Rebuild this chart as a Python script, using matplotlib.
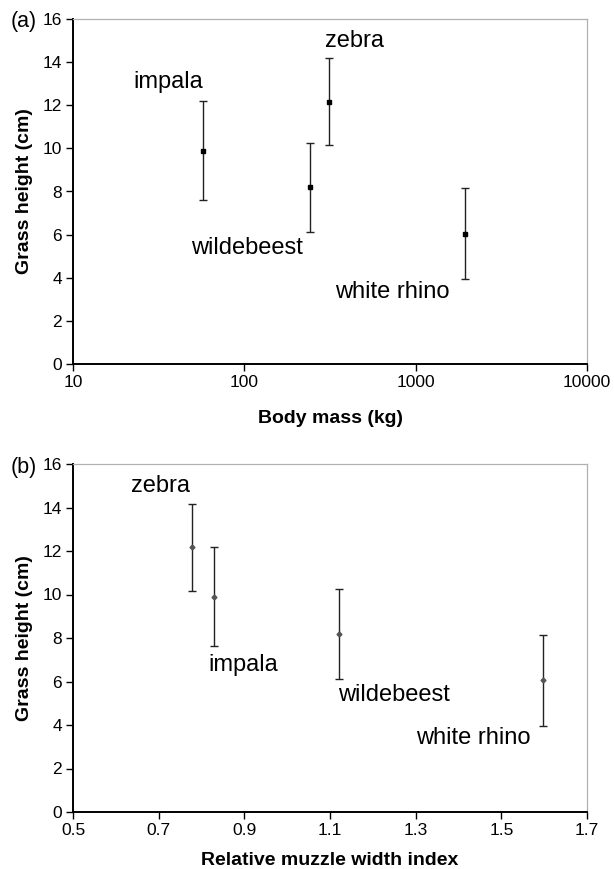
import matplotlib
matplotlib.use("Agg")
import matplotlib.pyplot as plt
from matplotlib.ticker import FixedLocator, FixedFormatter, NullLocator

plt.rcParams['font.family'] = ['Liberation Sans', 'DejaVu Sans']

species = ["impala", "wildebeest", "zebra", "white rhino"]
body_mass = [57, 241, 312, 1950]
muzzle_index = [0.829, 1.120, 0.777, 1.597]
grass_mean = [9.9, 8.2, 12.17, 6.05]
grass_err = [2.28, 2.07, 2.0, 2.1]

# label anchor positions (data coords)
label_a_x = [36, 103, 440, 728]
label_a_y = [13.1, 5.39, 15.0, 3.35]
label_b_x = [0.897, 1.249, 0.705, 1.434]
label_b_y = [6.76, 5.39, 14.98, 3.39]

fig = plt.figure(figsize=(6.14, 8.69), dpi=100)
W, H = 614, 869
axA = fig.add_axes([73/W, 1-364/H, 514/W, 345/H])
axB = fig.add_axes([73/W, 1-812/H, 514/W, 348/H])

def style(ax):
    for s in ['left', 'bottom']:
        ax.spines[s].set_color('black')
        ax.spines[s].set_linewidth(1.4)
    for s in ['top', 'right']:
        ax.spines[s].set_color('#b0b0b0')
        ax.spines[s].set_linewidth(0.9)
    ax.tick_params(direction='out', length=5, width=1, labelsize=12.5, colors='black', pad=3)
    ax.set_ylim(0, 16)
    ax.set_yticks(range(0, 17, 2))
    ax.set_ylabel("Grass height (cm)", fontsize=14, fontweight='bold')
    ax.yaxis.set_label_coords(-48/514, 0.5)
    ax.yaxis.label.set_va('center')

# Panel (a)
axA.errorbar(body_mass, grass_mean, yerr=grass_err, fmt='s', color='black', ms=2.2,
             ecolor='#222222', elinewidth=1, capsize=3, capthick=1)
axA.set_xscale('log')
axA.set_xlim(10, 10000)
axA.xaxis.set_major_locator(FixedLocator([10, 100, 1000, 10000]))
axA.xaxis.set_major_formatter(FixedFormatter(["10", "100", "1000", "10000"]))
axA.xaxis.set_minor_locator(NullLocator())
style(axA)
axA.set_xlabel("Body mass (kg)", fontsize=14, fontweight='bold', labelpad=14)
for n, x, y in zip(species, label_a_x, label_a_y):
    axA.text(x, y, n, fontsize=17, ha='center', va='center')

# Panel (b)
axB.errorbar(muzzle_index, grass_mean, yerr=grass_err, fmt='D', color='#555555', ms=2.5,
             ecolor='#222222', elinewidth=1, capsize=3, capthick=1)
axB.set_xlim(0.5, 1.7)
axB.set_xticks([0.5, 0.7, 0.9, 1.1, 1.3, 1.5, 1.7])
axB.set_xticklabels(["0.5", "0.7", "0.9", "1.1", "1.3", "1.5", "1.7"])
style(axB)
axB.set_xlabel("Relative muzzle width index", fontsize=14, fontweight='bold', labelpad=10)
for n, x, y in zip(species, label_b_x, label_b_y):
    axB.text(x, y, n, fontsize=17, ha='center', va='center')

fig.text(11/W, 1-22/H, "(a)", fontsize=15.5, ha='left', va='center')
fig.text(11/W, 1-468/H, "(b)", fontsize=15.5, ha='left', va='center')

fig.savefig("out.png", dpi=100)
